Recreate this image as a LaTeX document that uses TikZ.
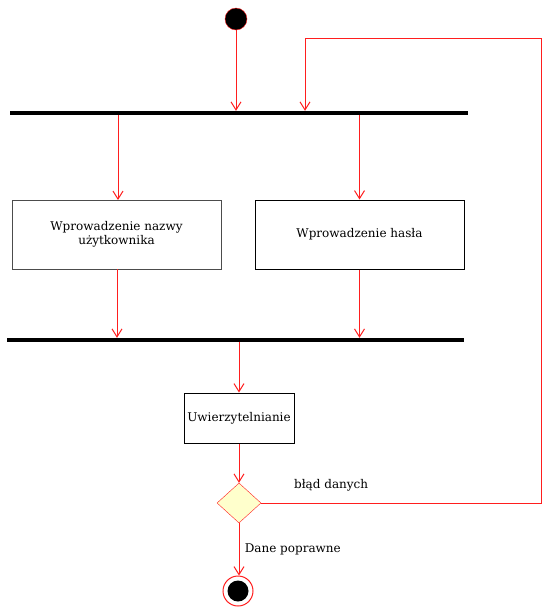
\documentclass[tikz,border=0pt]{standalone}
\usepackage{fontspec}
\setmainfont{DejaVu Serif}
\usetikzlibrary{arrows.meta, positioning, shapes.geometric}
\definecolor{flowred}{RGB}{255,30,30}
\definecolor{guardfill}{RGB}{255,255,204}

\begin{document}
\begin{tikzpicture}[x=1pt, y=-1pt,
    action/.style={rectangle, draw=black!70, line width=1pt, minimum width=209pt, minimum height=69pt, align=center, font=\fontsize{12}{14}\selectfont},
    bar/.style={rectangle, fill=black, inner sep=0pt, minimum height=4pt},
    guard/.style={diamond, draw=flowred, fill=guardfill, inner sep=0pt, minimum width=44pt, minimum height=40pt},
    flow/.style={draw=flowred, line width=1pt, -{Straight Barb[length=8pt, width=10pt]}},
    lbl/.style={font=\fontsize{12}{14}\selectfont}
]
\useasboundingbox (0,0) rectangle (557,611);
% Start state
\node[circle, fill=black, draw=flowred, minimum size=22pt, inner sep=0pt] (start) at (236,19) {};
% Fork bar
\node[bar, minimum width=458pt] (fork) at (239,113) {};
% Parallel actions
\node[action] (login) at (116.5,234.5) {Wprowadzenie nazwy\\użytkownika};
\node[action, draw=black] (pass) at (359.5,234.5) {Wprowadzenie hasła};
% Join bar
\node[bar, minimum width=457pt] (join) at (235.5,340) {};
% Authentication
\node[action, minimum width=110pt, minimum height=50pt, draw=black] (auth) at (239,418) {Uwierzytelnianie};
% Decision
\node[guard] (check) at (239,503) {};
% End state
\node[circle, draw=flowred, line width=1pt, minimum size=30pt, inner sep=0pt] (stop) at (238,591) {};
\node[circle, fill=black, minimum size=21pt, inner sep=0pt] at (stop) {};
% Flow ends on the bars
\coordinate (loginin) at (118,200);
\coordinate (loginout) at (117,269);
\coordinate (corner) at (541,38);
\coordinate (retry) at (305,38);
% Flows
\draw[flow] (start) -- (start |- fork.north);
\draw[flow] (fork.south -| loginin) -- (loginin);
\draw[flow] (fork.south -| pass.north) -- (pass.north);
\draw[flow] (loginout) -- (join.north -| loginout);
\draw[flow] (pass.south) -- (join.north -| pass.south);
\draw[flow] (join.south -| auth.north) -- (auth.north);
\draw[flow] (auth.south) -- (check.north);
\draw[flow] (check.east) -| node[pos=0.125, above=8pt, lbl, text=black] {błąd danych} (corner) -- (retry) -- (retry |- fork.north);
\draw[flow] (check.south) -- node[midway, right=2pt, lbl] {Dane poprawne} (check.south |- stop.north);
\end{tikzpicture}
\end{document}
